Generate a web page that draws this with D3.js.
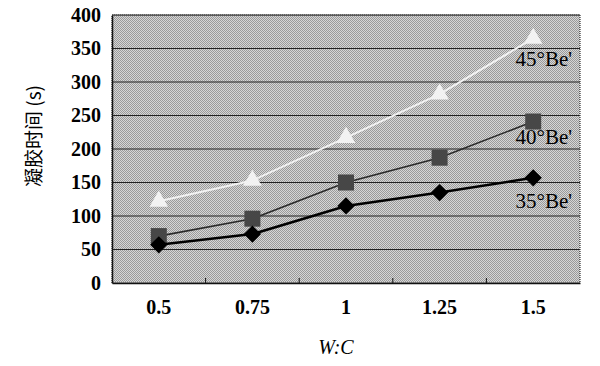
<!DOCTYPE html>
<html><head><meta charset="utf-8">
<script src="https://cdn.jsdelivr.net/npm/d3@7"></script>
<style>body{margin:0;background:#fff}svg{display:block}</style>
</head><body>
<script>
const categories = ["0.5","0.75","1","1.25","1.5"];
const s45 = [122,153,217,282,365];
const s40 = [70,96,150,187,241];
const s35 = [57,73,115,135,157];
const yTicks = [0,50,100,150,200,250,300,350,400];
const seriesLabels = ["45°Be'","40°Be'","35°Be'"];

const W=600,H=366;
const m={l:112,t:15,r:20,b:83};
const svg=d3.select("body").append("svg").attr("width",W).attr("height",H);
const defs=svg.append("defs");
const pat=defs.append("pattern").attr("id","dots").attr("width",2).attr("height",2).attr("patternUnits","userSpaceOnUse");
pat.append("rect").attr("width",2).attr("height",2).attr("fill","#d6d6d6");
pat.append("rect").attr("width",1).attr("height",1).attr("fill","#9a9a9a");
pat.append("rect").attr("x",1).attr("y",1).attr("width",1).attr("height",1).attr("fill","#9a9a9a");

const x=d3.scaleBand().domain(categories).range([m.l,W-m.r]);
const y=d3.scaleLinear().domain([0,400]).range([H-m.b,m.t]);
const xc=c=>x(c)+x.bandwidth()/2;

svg.append("rect").attr("x",m.l).attr("y",m.t).attr("width",W-m.r-m.l).attr("height",H-m.b-m.t).attr("fill","url(#dots)");
svg.append("g").selectAll("line").data(yTicks.filter(d=>d>0)).join("line")
 .attr("x1",m.l).attr("x2",W-m.r).attr("y1",d=>y(d)).attr("y2",d=>y(d)).attr("stroke","#222").attr("stroke-width",1);
svg.append("rect").attr("x",m.l).attr("y",m.t).attr("width",W-m.r-m.l).attr("height",H-m.b-m.t).attr("fill","none").attr("stroke","#333").attr("stroke-width",1.2).attr("stroke-dasharray","1,1");
const font="'Liberation Serif','Times New Roman',serif";
const ya=svg.append("g").attr("transform",`translate(${m.l},0)`).call(d3.axisLeft(y).tickValues(yTicks).tickSize(0).tickPadding(11));
ya.select(".domain").attr("stroke","#111").attr("stroke-width",1.5);
ya.selectAll("text").attr("font-family",font).attr("font-size",20).attr("fill","#000").attr("font-weight","bold");
const xa=svg.append("g").attr("transform",`translate(0,${H-m.b})`).call(d3.axisBottom(x).tickSize(0).tickPadding(17));
xa.select(".domain").attr("stroke","#111").attr("stroke-width",1.5);
xa.selectAll("text").attr("font-family",font).attr("font-size",20).attr("fill","#000").attr("font-weight","bold");
svg.append("g").selectAll("line").data(categories.slice(1)).join("line")
 .attr("x1",d=>x(d)).attr("x2",d=>x(d)).attr("y1",H-m.b).attr("y2",H-m.b-5).attr("stroke","#111");

const line=d3.line().x((d,i)=>xc(categories[i])).y(d=>y(d));
svg.append("path").datum(s45).attr("d",line).attr("fill","none").attr("stroke","#f2f2f2").attr("stroke-width",2);
svg.append("g").selectAll("path").data(s45).join("path")
 .attr("transform",(d,i)=>`translate(${xc(categories[i])},${y(d)})`)
 .attr("d",d3.symbol(d3.symbolTriangle,150)).attr("fill","#f2f2f2");
svg.append("path").datum(s40).attr("d",line).attr("fill","none").attr("stroke","#2a2a2a").attr("stroke-width",1.6);
svg.append("g").selectAll("rect").data(s40).join("rect")
 .attr("x",(d,i)=>xc(categories[i])-8).attr("y",d=>y(d)-8).attr("width",16).attr("height",16).attr("fill","#474747");
svg.append("path").datum(s35).attr("d",line).attr("fill","none").attr("stroke","#000").attr("stroke-width",2.5);
svg.append("g").selectAll("path").data(s35).join("path")
 .attr("transform",(d,i)=>`translate(${xc(categories[i])},${y(d)}) rotate(45)`)
 .attr("d",d3.symbol(d3.symbolSquare,150)).attr("fill","#000");

const lastVals=[s45[4],s40[4],s35[4]];
const offs=[28,22,30];
svg.append("g").selectAll("text").data(seriesLabels).join("text")
 .attr("x",572).attr("y",(d,i)=>y(lastVals[i])+offs[i]).attr("text-anchor","end")
 .attr("font-family",font).attr("font-size",21).attr("fill","#000").text(d=>d);

svg.append("text").attr("transform","translate(41,136) rotate(-90)").attr("text-anchor","middle")
 .attr("font-family","'Noto Sans CJK SC','Liberation Serif',serif").attr("font-size",19).attr("fill","#000").text("凝胶时间 (s)");
svg.append("text").attr("x",336).attr("y",354).attr("text-anchor","middle").attr("font-family",font)
 .attr("font-style","italic").attr("font-size",20).attr("fill","#000").text("W:C");
</script>
</body></html>
